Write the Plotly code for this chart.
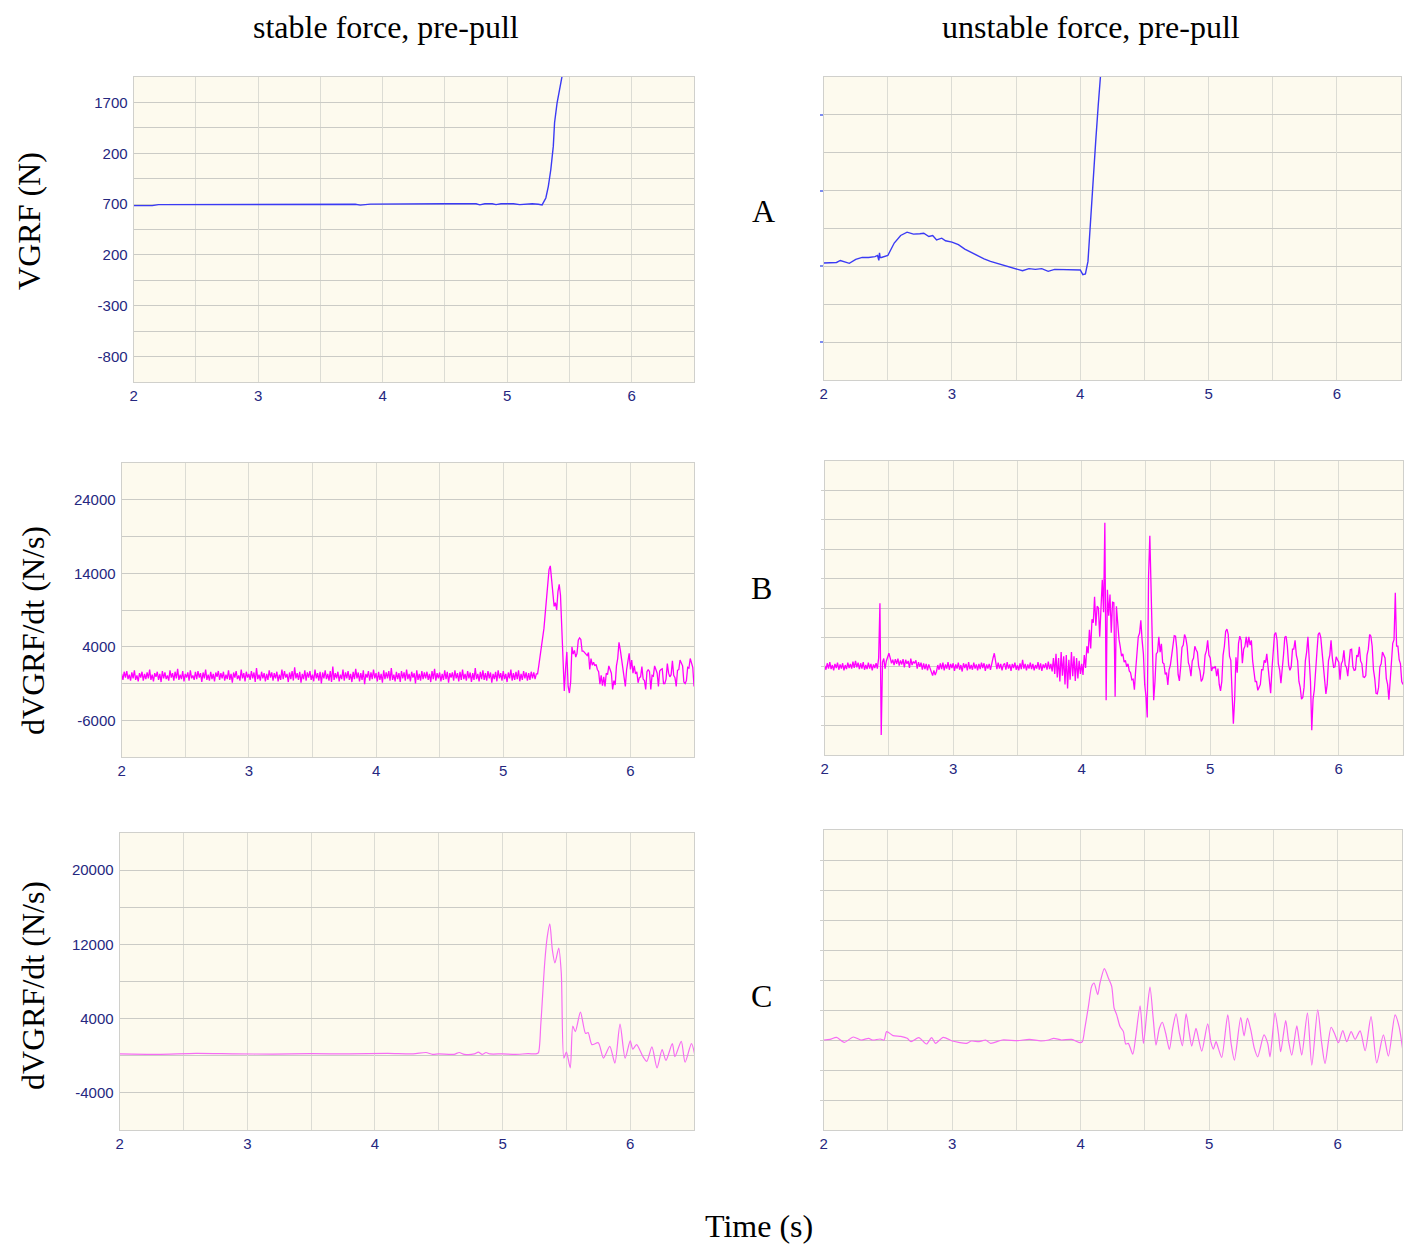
import plotly.graph_objects as go

# ---------------------------------------------------------------------------
# Row A: vertical ground reaction force, VGRF (N)
# ---------------------------------------------------------------------------
a_stable_t = [2.00, 2.15, 2.20, 3.20, 3.25, 3.30, 3.78, 3.82, 3.86, 3.90,
              4.50, 4.75, 4.78, 4.82, 4.88, 4.91, 4.95, 5.05, 5.10, 5.20,
              5.25, 5.28, 5.31, 5.33, 5.35, 5.37, 5.38, 5.40, 5.44, 5.47]
a_stable_f = [685, 685, 695, 697, 703, 697, 698, 690, 697, 700,
              703, 703, 692, 703, 703, 695, 703, 703, 695, 703,
              698, 692, 760, 875, 1040, 1270, 1500, 1693, 1956, 2150]

a_unstable_t = [2.00, 2.05, 2.10, 2.13, 2.17, 2.20, 2.25, 2.30, 2.35, 2.40,
                2.42, 2.43, 2.435, 2.44, 2.45, 2.50, 2.55, 2.60, 2.65, 2.70,
                2.75, 2.78, 2.82, 2.85, 2.88, 2.92, 2.95, 3.00, 3.05, 3.10,
                3.15, 3.20, 3.25, 3.30, 3.35, 3.40, 3.45, 3.50, 3.55, 3.60,
                3.65, 3.70, 3.75, 3.80, 3.85, 3.90, 3.95, 4.00, 4.02, 4.04,
                4.06, 4.08, 4.10, 4.12, 4.14, 4.16, 4.18]
a_unstable_f = [722, 722, 726, 739, 729, 720, 746, 759, 759, 764,
                772, 740, 790, 760, 759, 772, 854, 904, 926, 913,
                915, 919, 897, 904, 875, 886, 869, 860, 843, 814,
                792, 770, 750, 733, 720, 711, 698, 682, 671, 685,
                680, 685, 667, 680, 678, 680, 674, 676, 645, 650,
                733, 1018, 1281, 1522, 1764, 1961, 2202]

# ---------------------------------------------------------------------------
# Row B: raw dVGRF/dt (N/s), one sample every 10 ms starting at 2.00 s
# ---------------------------------------------------------------------------
SAMPLE_DT = 0.01

b_stable_quiet = [  # 2.00 - 5.26 s
    300, -500, 600, -200, 700, -400, 200, -600, 500, -300, 800, -500, 100, -700, 400, -200, 600, -600, 300, -400,
    500, -300, 900, -500, 200, -700, 400, -100, 600, -500, 300, -800, 700, -300, 500, -400, 100, -600, 800, -200,
    400, -600, 600, -300, 1000, -500, 200, -400, 700, -700, 300, -200, 500, -600, 800, -300, 100, -500, 600, -400,
    700, -200, 400, -800, 500, -300, 900, -500, 200, -600, 600, -400, 300, -700, 500, -100, 700, -500, 400, -300,
    600, -600, 200, -400, 800, -500, 300, -900, 500, -200, 700, -400, 100, -600, 900, -300, 400, -700, 600, -200,
    300, -500, 700, -300, 500, -800, 1100, -400, 200, -600, 600, -300, 400, -700, 300, -500, 800, -200, 500, -600,
    400, -300, 600, -700, 200, -500, 900, -400, 700, -200, 300, -800, 500, -400, 700, -600, 1200, -300, 400, -500,
    600, -900, 300, -400, 800, -600, 500, -200, 700, -500, 200, -700, 900, -300, 400, -600, 600, -1000, 500, -300,
    800, -400, 300, -600, 700, -800, 1300, -500, 400, -300, 600, -700, 200, -400, 900, -600, 500, -300, 700, -500,
    300, -800, 600, -400, 1000, -300, 500, -700, 400, -500, 800, -1100, 300, -200, 700, -600, 500, -400, 900, -300,
    400, -700, 600, -500, 300, -900, 800, -400, 500, -300, 700, -600, 1100, -500, 200, -700, 600, -400, 400, -800,
    700, -300, 500, -600, 900, -400, 300, -700, 600, -200, 400, -1000, 800, -500, 300, -600, 700, -400, 500, -300,
    600, -500, 300, -800, 700, -400, 1000, -600, 400, -300, 500, -700, 300, -500, 800, -400, 600, -900, 400, -200,
    500, -600, 800, -300, 400, -700, 600, -500, 900, -400, 300, -600, 700, -300, 500, -800, 400, -500, 1100, -400,
    300, -700, 600, -400, 800, -500, 400, -600, 700, -300, 500, -900, 300, -400, 600, -700, 800, -300, 400, -600,
    700, -400, 300, -800, 500, -300, 900, -600, 400, -500, 600, -400, 800, -700, 300, -500, 700, -300, 500, -600,
    400, -500, 600, -300, 500, -400, 300,
]
b_stable_push = [  # 5.27 - 6.50 s
    300, 1500, 2800, 3500, 5000, 6500, 8500, 10500, 12500, 14500,
    15000, 13000, 11000, 9500, 10000, 9000, 11500, 12500, 11000, 7000,
    1500, -2000, 1000, 3300, -1400, -2300, -800, 4000, 3000, 3500,
    2600, 3100, 4900, 5200, 5000, 3400, 3400, 3100, 3000, 2800,
    3200, 900, 2400, 1500, 1900, 1400, 1600, 900, 600, -1100,
    100, -1300, -100, -1400, 400, 200, 1400, 900, 400, -1800,
    -600, -1200, 1400, 2400, 4600, 3600, 2400, 800, -100, -1400,
    900, 2100, 3100, 900, 2200, 400, 1400, 300, 600, -900,
    -200, -100, 1300, -400, -600, -1800, 600, 900, 600, -1800,
    100, 0, 1400, 900, 400, -1400, 700, 900, 1000, -1000,
    -1000, -400, 1700, 400, -100, 200, 2100, 100, -200, -1400,
    800, 900, 2200, 1800, 1400, -800, -1000, -600, 1200, 1100,
    2400, 1800, 1200, -1400,
]

b_unstable_quiet = [  # 2.00 - 3.99 s
    200, -500, 600, -300, 800, -400, 300, -600, 500, -200, 700, -500, 400, -300, 600, -600, 300, -400, 700, -200,
    500, -300, 900, -200, 1000, -100, 700, -400, 600, -300, 800, -500, 300, -400, 700, -300, 500, -600, 400, -200,
    600, -300, 1500, 10800, -11600, 800, 1400, -300, 1000, 1800, 2300, 1500, 600, 1200, 300, 1300, 500, 1400, 200, 1100,
    400, 1300, -100, 1200, 500, 1000, -200, 1400, 300, 900, 600, 1100, -300, 800, 0, 700, -500, 600, -400, 500,
    -600, 400, -300, -900, -1500, -600, -1400, -800, 300, -500, 600, -400, 700, -600, 400, -300, 800, -500, 500, -200,
    600, -700, 400, -300, 700, -500, 300, -800, 600, -200, 500, -600, 800, -400, 300, -500, 700, -300, 400, -600,
    500, -400, 700, -200, 600, -700, 400, -300, 500, -500, 800, 1500, 2300, 600, -400, 700, -300, 500, -600, 300,
    600, -500, 800, -300, 400, -700, 500, -200, 700, -500, 300, -600, 600, -400, 1200, -300, 500, -600, 400, -300,
    700, -400, 500, -600, 300, -300, 800, -500, 600, -700, 400, -200, 600, -500, 900, -400, 500, -800, 1500, -1200,
    2200, -1800, 1500, -2500, 2500, -1500, 1800, -3000, 2000, -3700, 1200, -2200, 2500, -1600, 1800, -2400, 1500, -2000, 1000, -1200,
]
b_unstable_push = [  # 4.00 - 6.50 s
    500, -1400, 2000, -200, 3500, 2300, 6300, 3100, 8100, 7500,
    11900, 7000, 10300, 10000, 5100, 10000, 14800, 9300, 24500, -5700,
    13100, 8700, 12300, 5800, 11000, 10900, -5100, 10300, 6500, 4700,
    3400, 1800, 2200, 800, 1100, 0, 500, -700, -1000, -2200,
    -2100, -3900, -500, 2000, 5100, 5700, 7900, 4500, 2200, -3000,
    -5000, -8600, 15400, 22300, 11400, 2500, -5700, -2500, 2200, 2500,
    5100, 2500, 3900, 700, 500, -1300, -1000, -3100, -500, 300,
    2200, 3000, 5300, 5200, 3000, -1300, -2400, 0, 3300, 3700,
    5500, 4900, 3500, 700, 0, -1600, 1000, 1500, 3500, 2900,
    2500, 100, -700, -2500, -2100, -1000, 2000, 2700, 4500, 2000,
    1500, -700, -100, -200, 100, -1600, -300, -3000, -4100, -2500,
    2000, 3500, 6000, 6400, 5500, 1800, 1100, -4500, -9700, -5500,
    1600, -1000, 4000, 5200, 4500, 600, 3000, 3500, 5100, 3300,
    5100, 3700, 4500, 1000, -600, -2500, -2500, -4000, -3500, -3000,
    -500, -500, 1100, 700, 2200, -500, -2000, -4500, -500, 2000,
    5500, 5800, 4500, 500, -500, -2800, 500, 2000, 5000, 5200,
    3500, 300, -600, 0, 3000, 3000, 4500, 2000, 1000, -2500,
    -3500, -5500, -5200, -3500, 1000, 2500, 5100, 2000, -2500, -10800,
    -5500, -3900, 500, 2500, 5500, 5800, 5000, 2400, 0, -3500,
    -4600, -3000, 1000, 2000, 4500, 1500, -100, 0, 1700, 1200,
    800, -2200, 500, 1000, 2800, 300, -100, -1600, 1500, 2900,
    3000, 0, -600, -500, 2000, 1700, 3400, 1000, 500, -1700,
    -1800, -1500, 2000, 3000, 5500, 5200, 3500, -500, -2000, -4500,
    -4600, -3500, 0, 500, 2500, 1800, 1500, -2000, -3000, -5600,
    -2000, 500, 4000, 4600, 12600, 3500, 3500, 1200, 500, -2500, -3000,
]

# ---------------------------------------------------------------------------
# Row C: filtered dVGRF/dt (N/s)
# ---------------------------------------------------------------------------
c_stable_t = [2.00, 2.30, 2.60, 2.90, 3.20, 3.50, 3.80, 4.10, 4.30, 4.40,
              4.45, 4.50, 4.62, 4.66, 4.70, 4.78, 4.81, 4.84, 4.87, 4.90,
              5.00, 5.10, 5.20, 5.26, 5.28, 5.30, 5.33, 5.35, 5.37, 5.39,
              5.41, 5.44, 5.46, 5.48, 5.50, 5.53, 5.55, 5.57, 5.61, 5.65,
              5.67, 5.70, 5.75, 5.79, 5.84, 5.88, 5.92, 5.96, 6.00, 6.02,
              6.05, 6.10, 6.13, 6.17, 6.21, 6.25, 6.28, 6.33, 6.35, 6.40,
              6.43, 6.48, 6.51]
c_stable_r = [200, 150, 250, 200, 180, 220, 200, 250, 200, 350,
              150, 200, 150, 350, 150, 200, 400, 150, 350, 200,
              200, 150, 220, 200, 300, 3500, 10000, 12800, 14200, 11400,
              10000, 11600, 8900, -250, 400, -1300, 3200, 2600, 4700, 2400,
              2500, 1200, 1400, -250, 1000, -800, 3400, -250, 1600, 700,
              1200, -100, -600, 950, -1300, 650, -500, 1300, -100, 1550,
              -700, 1300, -200]

c_unstable_t = [2.00, 2.05, 2.10, 2.16, 2.23, 2.29, 2.35, 2.38, 2.44, 2.47,
                2.49, 2.54, 2.60, 2.65, 2.68, 2.74, 2.80, 2.84, 2.87, 2.93,
                3.00, 3.05, 3.11, 3.15, 3.21, 3.26, 3.30, 3.39, 3.51, 3.60,
                3.69, 3.75, 3.79, 3.85, 3.93, 3.995, 4.013, 4.03, 4.06, 4.085,
                4.104, 4.132, 4.15, 4.184, 4.215, 4.241, 4.26, 4.28, 4.306, 4.332,
                4.35, 4.37, 4.405, 4.428, 4.462, 4.488, 4.514, 4.539, 4.565, 4.586,
                4.612, 4.635, 4.661, 4.69, 4.716, 4.742, 4.768, 4.791, 4.82, 4.843,
                4.864, 4.897, 4.916, 4.942, 4.988, 5.014, 5.032, 5.053, 5.071, 5.097,
                5.144, 5.17, 5.196, 5.245, 5.271, 5.297, 5.323, 5.351, 5.377, 5.426,
                5.455, 5.473, 5.512, 5.538, 5.556, 5.595, 5.616, 5.642, 5.681, 5.699,
                5.72, 5.764, 5.798, 5.844, 5.875, 5.901, 5.948, 5.974, 6.005, 6.039,
                6.07, 6.104, 6.135, 6.174, 6.213, 6.259, 6.303, 6.355, 6.394, 6.446,
                6.477, 6.511]
c_unstable_r = [0, 100, 450, -390, 500, 0, 280, 0, 170, 0,
                1400, 730, 600, 280, -280, 390, -670, 390, -560, 450,
                -170, -390, -560, -170, -280, 0, -560, 0, -110, 110,
                -170, 0, 280, 0, 100, -450, -280, 1680, 5590, 8940,
                9500, 7550, 9500, 11900, 10340, 8940, 5310, 4190, 2240, 1400,
                -670, -560, -2350, 560, 5700, -560, 4470, 8830, 3350, -840,
                1960, 2960, 1120, -1570, 1960, 4360, 1120, -950, 4360, 1400,
                -1010, 1960, 280, -1850, 2680, -450, -1510, -280, -1400, -2910,
                4190, -560, -3350, 3750, 670, 3630, 1680, -1400, -2800, 840,
                -560, -2800, 4470, 1120, -1960, 3240, 0, -2520, 2350, 0,
                -2520, 4470, -4190, 5030, -560, -3910, 2120, 1120, -450, 1570,
                -280, 1400, 110, 1510, -1790, 3910, -3800, 840, -2680, 4190,
                2240, -2520]

# Axis ticks
x_ticks = [2, 3, 4, 5, 6]
a_left_ticks = [1700, 1200, 700, 200, -300, -800]
a_left_labels = ["1700", "200", "700", "200", "-300", "-800"]
b_left_ticks = [24000, 14000, 4000, -6000]
b_left_labels = ["24000", "14000", "4000", "-6000"]
c_left_ticks = [20000, 12000, 4000, -4000]
c_left_labels = ["20000", "12000", "4000", "-4000"]

# ---------------------------------------------------------------------------
W, H = 1411, 1244
BG = "#fdfaee"
GRID_Y = "#cbcbc6"
GRID_X = "#dcdcd4"
EDGE = "#d0d0cc"
TICK_BLUE = "#25277f"
BLUE = "#3a3af4"
MAGENTA = "#ff00ff"
PINK = "#f76cf4"


def dom_x(left, right):
    return [left / W, right / W]


def dom_y(top, bottom):
    return [1 - bottom / H, 1 - top / H]


fig = go.Figure()

# plot-area boxes in pixels: (left, top, right, bottom)
boxes = {
    1: (130, 77, 692, 382),
    2: (822, 77, 1401, 380),
    3: (118, 463, 692, 757),
    4: (823, 461, 1403, 755),
    5: (116, 833, 692, 1130),
    6: (822, 830, 1402, 1130),
}

fig.add_trace(go.Scatter(x=a_stable_t, y=a_stable_f, mode="lines",
                         line=dict(color=BLUE, width=1.4), xaxis="x", yaxis="y"))
fig.add_trace(go.Scatter(x=a_unstable_t, y=a_unstable_f, mode="lines",
                         line=dict(color=BLUE, width=1.4), xaxis="x2", yaxis="y2"))
fig.add_trace(go.Scatter(x0=2.0, dx=SAMPLE_DT, y=b_stable_quiet + b_stable_push, mode="lines",
                         line=dict(color=MAGENTA, width=1.3), xaxis="x3", yaxis="y3"))
fig.add_trace(go.Scatter(x0=2.0, dx=SAMPLE_DT, y=b_unstable_quiet + b_unstable_push, mode="lines",
                         line=dict(color=MAGENTA, width=1.3), xaxis="x4", yaxis="y4"))
fig.add_trace(go.Scatter(x=c_stable_t, y=c_stable_r, mode="lines",
                         line=dict(color=PINK, width=1.2, shape="spline", smoothing=0.7),
                         xaxis="x5", yaxis="y5"))
fig.add_trace(go.Scatter(x=c_unstable_t, y=c_unstable_r, mode="lines",
                         line=dict(color=PINK, width=1.2, shape="spline", smoothing=0.7),
                         xaxis="x6", yaxis="y6"))

tick_font = dict(family="Liberation Sans, Arial, sans-serif", size=15, color=TICK_BLUE)

y_specs = {
    1: dict(range=[-1050, 1950], tickvals=a_left_ticks, ticktext=a_left_labels,
            minor=dict(tick0=-800, dtick=250, showgrid=True, gridcolor=GRID_Y)),
    2: dict(range=[-50, 1950], tickvals=[1700, 1200, 700, 200], ticktext=["", "", "", ""],
            ticks="outside", ticklen=3, tickwidth=2, tickcolor="#7d8cf0",
            minor=dict(tick0=200, dtick=250, showgrid=True, gridcolor=GRID_Y)),
    3: dict(range=[-11000, 29000], tickvals=b_left_ticks, ticktext=b_left_labels,
            minor=dict(tick0=-6000, dtick=5000, showgrid=True, gridcolor=GRID_Y)),
    4: dict(range=[-15000, 35000], tickvals=list(range(-10000, 35000, 5000)),
            showticklabels=False, ticks="outside", ticklen=3, tickcolor=EDGE),
    5: dict(range=[-8000, 24000], tickvals=c_left_ticks, ticktext=c_left_labels,
            minor=dict(tick0=0, dtick=4000, showgrid=True, gridcolor=GRID_Y)),
    6: dict(range=[-15000, 35000], tickvals=list(range(-10000, 35000, 5000)),
            showticklabels=False, ticks="outside", ticklen=3, tickcolor=EDGE),
}

layout = dict(
    width=W, height=H, margin=dict(l=0, r=0, t=0, b=0),
    paper_bgcolor="white", plot_bgcolor=BG, showlegend=False,
)

for i, (l, t, r, b) in boxes.items():
    sx = "" if i == 1 else str(i)
    layout["xaxis" + sx] = dict(
        domain=dom_x(l, r), anchor="y" + sx, range=[2, 6.5],
        tickvals=x_ticks, tickfont=tick_font, ticks="",
        showgrid=True, gridcolor=GRID_X, gridwidth=1,
        minor=dict(tick0=2, dtick=0.5, showgrid=True, gridcolor=GRID_X),
        showline=True, linecolor=EDGE, linewidth=1, mirror=True,
        zeroline=False, fixedrange=True,
    )
    yax = dict(
        domain=dom_y(t, b), anchor="x" + sx, tickfont=tick_font,
        showgrid=True, gridcolor=GRID_Y, gridwidth=1,
        showline=True, linecolor=EDGE, linewidth=1, mirror=True,
        zeroline=False, fixedrange=True, ticklabelstandoff=2,
    )
    yax.update(y_specs[i])
    if "ticks" not in yax:
        yax["ticks"] = ""
    layout["yaxis" + sx] = yax

serif = "Liberation Serif, Times New Roman, serif"
texts = [
    ("stable force, pre-pull", 383, 27, 0),
    ("unstable force, pre-pull", 1090, 27, 0),
    ("VGRF (N)", 25, 221, -90),
    ("dVGRF/dt (N/s)", 29, 630, -90),
    ("dVGRF/dt (N/s)", 29, 985, -90),
    ("A", 762, 211, 0),
    ("B", 760, 588, 0),
    ("C", 760, 996, 0),
    ("Time (s)", 757, 1226, 0),
]
annotations = []
for txt, px, py, ang in texts:
    annotations.append(dict(
        text=txt, x=px / W, y=1 - py / H, xref="paper", yref="paper",
        xanchor="center", yanchor="middle", showarrow=False, textangle=ang,
        font=dict(family=serif, size=32, color="black"),
    ))
layout["annotations"] = annotations

fig.update_layout(**layout)
fig.write_html("out.html")
